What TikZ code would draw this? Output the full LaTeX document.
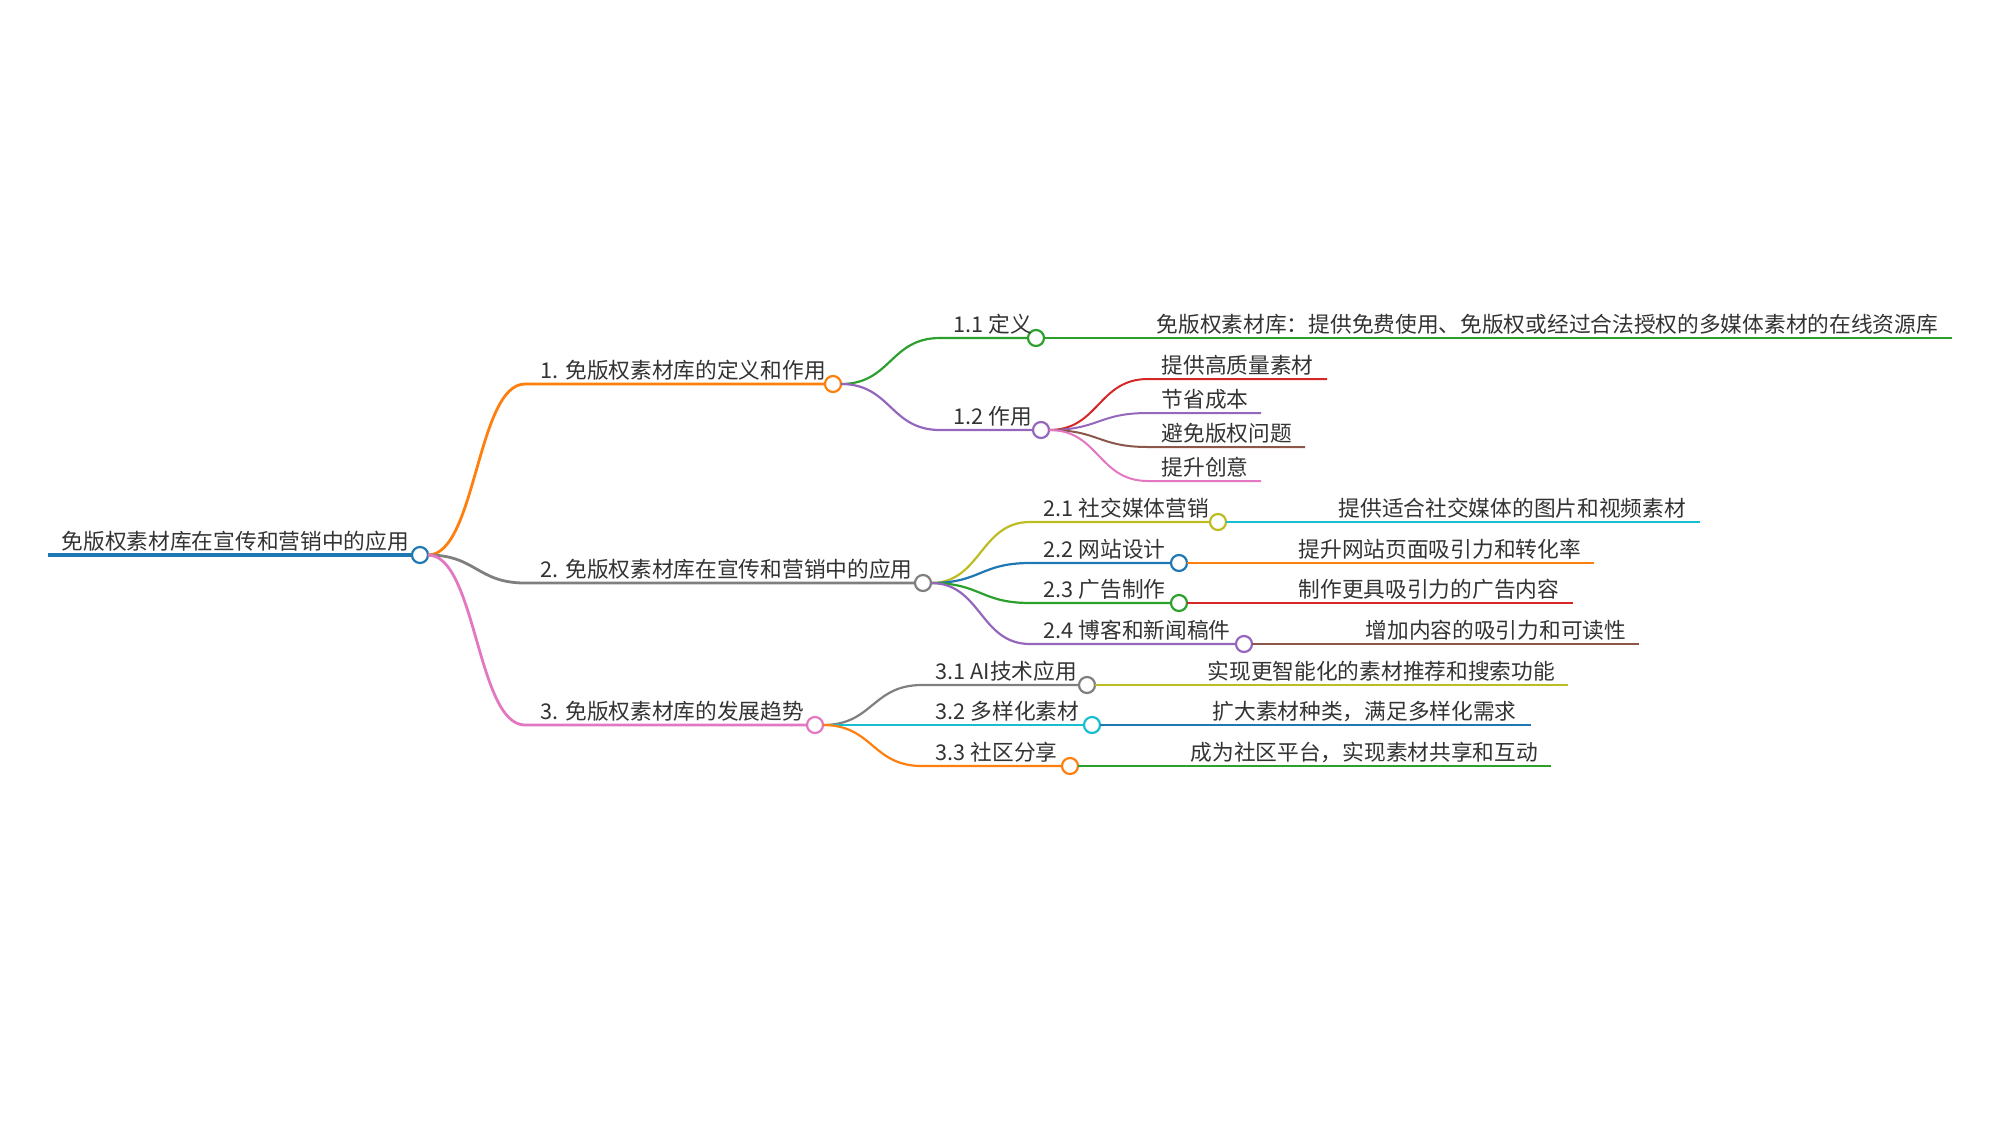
\documentclass[tikz,border=0pt]{standalone}
\usepackage{fontspec}
\setmainfont{Noto Sans CJK SC}

\definecolor{mmblue}{RGB}{31,119,180}
\definecolor{mmorange}{RGB}{255,127,14}
\definecolor{mmgreen}{RGB}{44,160,44}
\definecolor{mmred}{RGB}{214,39,40}
\definecolor{mmpurple}{RGB}{148,103,189}
\definecolor{mmbrown}{RGB}{140,86,75}
\definecolor{mmpink}{RGB}{227,119,194}
\definecolor{mmgray}{RGB}{127,127,127}
\definecolor{mmolive}{RGB}{188,189,34}
\definecolor{mmcyan}{RGB}{23,190,207}
\definecolor{txt}{RGB}{51,51,51}

\tikzset{every picture/.style={line width=0.75pt}}
\tikzset{
  dot/.style={circle,draw,fill=white,line width=1.1pt,minimum size=8pt,inner sep=0pt,outer sep=0pt},
  lbl/.style={anchor=base west,inner sep=0pt,text=txt,font=\fontsize{10.85}{13}\selectfont},
  lv0/.style={line width=2.4pt},
  lv1/.style={line width=1.4pt},
  lv2/.style={line width=1.1pt},
  lv3/.style={line width=1pt}
}

\begin{document}
\begin{tikzpicture}[x=0.5pt,y=0.5pt,yscale=-1,xscale=1]
\useasboundingbox (0,0) rectangle (2000,1125);

%Shape: Circle [root]
\node[dot,draw=mmblue] (r) at (420,555) {};
\coordinate (r0) at (48,555);
%Straight Lines
\draw[lv0,mmblue] (r0) -- (r.west);
% Text Node
\node[lbl] (tr) at (61,549) {免版权素材库在宣传和营销中的应用};

%Shape: Circle [1]
\node[dot,draw=mmorange] (n1) at (833,384) {};
\coordinate (s1) at (525,384);
%Curve Lines
\draw[lv1,mmorange] (r.east) .. controls +(48,0) and +(-48,0) .. (s1) -- (n1.west);
% Text Node
\node[lbl] (t1) at (540,378) {1. 免版权素材库的定义和作用};

%Shape: Circle [2]
\node[dot,draw=mmgray] (n2) at (923,583) {};
\coordinate (s2) at (525,583);
%Curve Lines
\draw[lv1,mmgray] (r.east) .. controls +(48,0) and +(-48,0) .. (s2) -- (n2.west);
% Text Node
\node[lbl] (t2) at (540,577) {2. 免版权素材库在宣传和营销中的应用};

%Shape: Circle [3]
\node[dot,draw=mmpink] (n3) at (815,725) {};
\coordinate (s3) at (525,725);
%Curve Lines
\draw[lv1,mmpink] (r.east) .. controls +(48,0) and +(-48,0) .. (s3) -- (n3.west);
% Text Node
\node[lbl] (t3) at (540,719) {3. 免版权素材库的发展趋势};

%Shape: Circle [1.1]
\node[dot,draw=mmgreen] (n11) at (1036,338) {};
\coordinate (s11) at (940,338);
\coordinate (e11) at (1952,338);
%Curve Lines
\draw[lv2,mmgreen] (n1.east) .. controls +(50,0) and +(-50,0) .. (s11) -- (n11.west);
%Straight Lines
\draw[lv3,mmgreen] (n11.east) -- (e11);
% Text Node
\node[lbl] (t11) at (953,332) {1.1 定义};
% Text Node
\node[lbl] (t111) at (1156,332) {免版权素材库：提供免费使用、免版权或经过合法授权的多媒体素材的在线资源库};

%Shape: Circle [1.2]
\node[dot,draw=mmpurple] (n12) at (1041,430) {};
\coordinate (s12) at (940,430);
%Curve Lines
\draw[lv2,mmpurple] (n1.east) .. controls +(50,0) and +(-50,0) .. (s12) -- (n12.west);
% Text Node
\node[lbl] (t12) at (953,424) {1.2 作用};

%Curve Lines [1.2 leaves]
\coordinate (s121) at (1148,379);
\coordinate (e121) at (1327,379);
\draw[lv3,mmred] (n12.east) .. controls +(50,0) and +(-50,0) .. (s121) -- (e121);
\coordinate (s122) at (1148,413);
\coordinate (e122) at (1261,413);
\draw[lv3,mmpurple] (n12.east) .. controls +(50,0) and +(-50,0) .. (s122) -- (e122);
\coordinate (s123) at (1148,447);
\coordinate (e123) at (1305,447);
\draw[lv3,mmbrown] (n12.east) .. controls +(50,0) and +(-50,0) .. (s123) -- (e123);
\coordinate (s124) at (1148,481);
\coordinate (e124) at (1261,481);
\draw[lv3,mmpink] (n12.east) .. controls +(50,0) and +(-50,0) .. (s124) -- (e124);
% Text Node
\node[lbl] (t121) at (1161,373) {提供高质量素材};
% Text Node
\node[lbl] (t122) at (1161,407) {节省成本};
% Text Node
\node[lbl] (t123) at (1161,441) {避免版权问题};
% Text Node
\node[lbl] (t124) at (1161,475) {提升创意};

%Shape: Circle [2.1]
\node[dot,draw=mmolive] (n21) at (1218,522) {};
\coordinate (s21) at (1030,522);
\coordinate (e21) at (1700,522);
%Curve Lines
\draw[lv2,mmolive] (n2.east) .. controls +(50,0) and +(-50,0) .. (s21) -- (n21.west);
%Straight Lines
\draw[lv3,mmcyan] (n21.east) -- (e21);
% Text Node
\node[lbl] (t21) at (1043,516) {2.1 社交媒体营销};
% Text Node
\node[lbl] (t211) at (1338,516) {提供适合社交媒体的图片和视频素材};

%Shape: Circle [2.2]
\node[dot,draw=mmblue] (n22) at (1179,563) {};
\coordinate (s22) at (1030,563);
\coordinate (e22) at (1594,563);
%Curve Lines
\draw[lv2,mmblue] (n2.east) .. controls +(50,0) and +(-50,0) .. (s22) -- (n22.west);
%Straight Lines
\draw[lv3,mmorange] (n22.east) -- (e22);
% Text Node
\node[lbl] (t22) at (1043,557) {2.2 网站设计};
% Text Node
\node[lbl] (t221) at (1298,557) {提升网站页面吸引力和转化率};

%Shape: Circle [2.3]
\node[dot,draw=mmgreen] (n23) at (1179,603) {};
\coordinate (s23) at (1030,603);
\coordinate (e23) at (1573,603);
%Curve Lines
\draw[lv2,mmgreen] (n2.east) .. controls +(50,0) and +(-50,0) .. (s23) -- (n23.west);
%Straight Lines
\draw[lv3,mmred] (n23.east) -- (e23);
% Text Node
\node[lbl] (t23) at (1043,597) {2.3 广告制作};
% Text Node
\node[lbl] (t231) at (1298,597) {制作更具吸引力的广告内容};

%Shape: Circle [2.4]
\node[dot,draw=mmpurple] (n24) at (1244,644) {};
\coordinate (s24) at (1030,644);
\coordinate (e24) at (1639,644);
%Curve Lines
\draw[lv2,mmpurple] (n2.east) .. controls +(50,0) and +(-50,0) .. (s24) -- (n24.west);
%Straight Lines
\draw[lv3,mmbrown] (n24.east) -- (e24);
% Text Node
\node[lbl] (t24) at (1043,638) {2.4 博客和新闻稿件};
% Text Node
\node[lbl] (t241) at (1365,638) {增加内容的吸引力和可读性};

%Shape: Circle [3.1]
\node[dot,draw=mmgray] (n31) at (1087,685) {};
\coordinate (s31) at (922,685);
\coordinate (e31) at (1568,685);
%Curve Lines
\draw[lv2,mmgray] (n3.east) .. controls +(50,0) and +(-50,0) .. (s31) -- (n31.west);
%Straight Lines
\draw[lv3,mmolive] (n31.east) -- (e31);
% Text Node
\node[lbl] (t31) at (935,679) {3.1 AI技术应用};
% Text Node
\node[lbl] (t311) at (1207,679) {实现更智能化的素材推荐和搜索功能};

%Shape: Circle [3.2]
\node[dot,draw=mmcyan] (n32) at (1092,725) {};
\coordinate (e32) at (1531,725);
%Straight Lines
\draw[lv2,mmcyan] (n3.east) -- (n32.west);
%Straight Lines
\draw[lv3,mmblue] (n32.east) -- (e32);
% Text Node
\node[lbl] (t32) at (935,719) {3.2 多样化素材};
% Text Node
\node[lbl] (t321) at (1212,719) {扩大素材种类，满足多样化需求};

%Shape: Circle [3.3]
\node[dot,draw=mmorange] (n33) at (1070,766) {};
\coordinate (s33) at (922,766);
\coordinate (e33) at (1551,766);
%Curve Lines
\draw[lv2,mmorange] (n3.east) .. controls +(50,0) and +(-50,0) .. (s33) -- (n33.west);
%Straight Lines
\draw[lv3,mmgreen] (n33.east) -- (e33);
% Text Node
\node[lbl] (t33) at (935,760) {3.3 社区分享};
% Text Node
\node[lbl] (t331) at (1190,760) {成为社区平台，实现素材共享和互动};

\end{tikzpicture}
\end{document}
